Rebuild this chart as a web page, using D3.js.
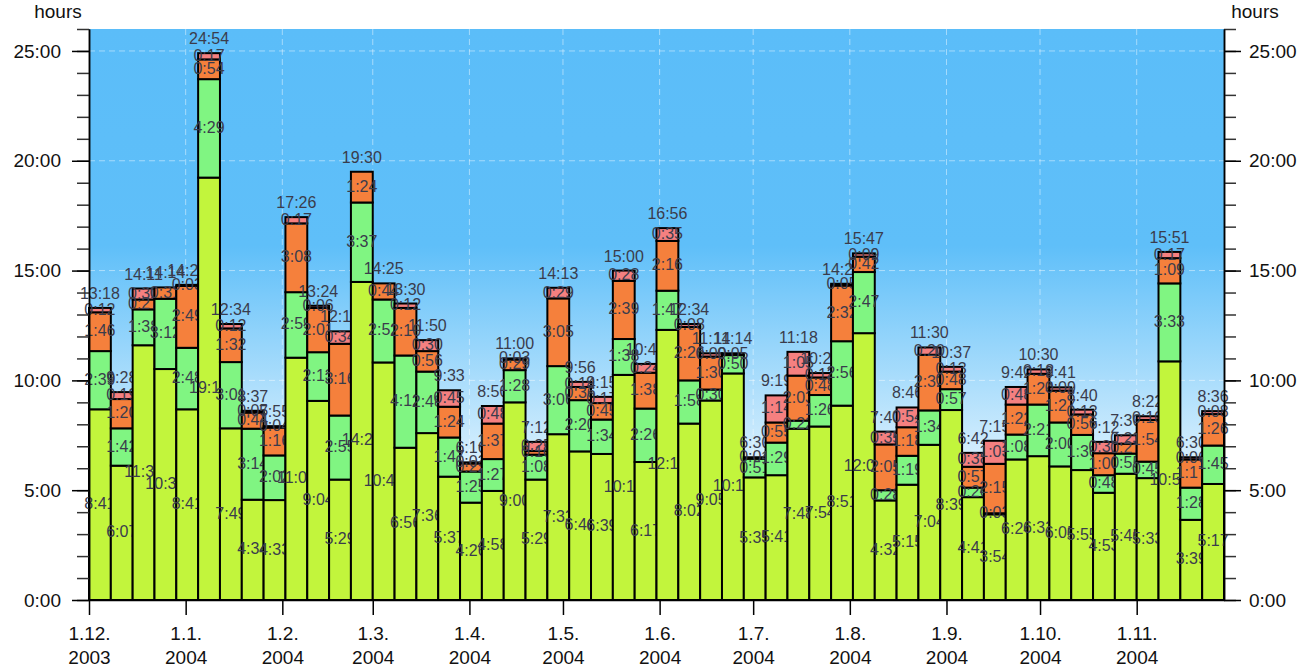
<!DOCTYPE html>
<html>
<head>
<meta charset="utf-8">
<script src="https://cdn.jsdelivr.net/npm/d3@7"></script>
<style>
  body { margin: 0; background: #fff; }
  svg text { font-family: "Liberation Sans", Arial, sans-serif; }
</style>
</head>
<body>
<svg width="1303" height="669"></svg>
<script>
// weekly stacked hours, Mondays 1.12.2003 .. 22.11.2004
const FIRST_WEEK = new Date(2003, 11, 1);
const END_DATE = new Date(2004, 10, 29);

// bottom segment (yellow-green)
const seriesA = ["8:41","6:07","11:36","10:31","8:41","19:14","7:49","4:34","4:33","11:02","9:04","5:29","14:29",
  "10:49","6:56","7:36","5:37","4:26","4:58","9:00","5:29","7:33","6:46","6:39","10:15","6:17","12:18",
  "8:02","9:05","10:19","5:35","5:41","7:48","7:54","8:51","12:09","4:32","5:15","7:04","8:39","4:41",
  "3:54","6:24","6:33","6:05","5:55","4:53","5:45","5:33","10:52","3:39","5:17"];
// second segment (light green)
const seriesB = ["2:39","1:42","1:38","3:12","2:48","4:29","3:01","3:14","2:02","2:59","2:13","2:55","3:37",
  "2:52","4:12","2:48","1:47","1:25","1:27","1:28","1:08","3:06","2:20","1:34","1:38","2:26","1:47",
  "1:58","0:30","0:50","0:51","1:29","0:22","1:26","2:56","2:47","0:28","1:19","1:34","0:57","0:26",
  "0:03","1:08","2:21","2:00","1:36","0:48","0:55","0:45","3:33","1:28","1:45"];
// third segment (orange)
const seriesC = ["1:46","1:20","0:27","0:31","2:49","0:54","1:32","0:44","1:16","3:08","2:01","3:16","1:24",
  "0:44","2:10","0:56","1:24","0:22","1:37","0:29","0:10","3:05","0:36","0:45","2:39","1:38","2:16",
  "2:26","1:30","0:00","0:04","0:55","2:03","0:48","2:32","0:42","2:05","1:18","2:32","0:48","0:57",
  "2:15","1:22","1:24","1:27","0:56","1:00","0:27","1:54","1:09","1:17","1:26"];
// top segment (pink)
const seriesD = ["0:12","0:19","0:30","0:00","0:03","0:17","0:12","0:05","0:04","0:17","0:06","0:34","0:00",
  "0:00","0:12","0:30","0:45","0:03","0:48","0:03","0:25","0:29","0:14","0:17","0:28","0:24","0:35",
  "0:08","0:09","0:05","0:00","1:14","1:05","0:12","0:05","0:09","0:35","0:54","0:20","0:13","0:38",
  "1:03","0:48","0:12","0:09","0:13","0:31","0:23","0:10","0:17","0:06","0:08"];

const KEYS = ["a", "b", "c", "d"];
const COLORS = { a: "#c2f53c", b: "#80f582", c: "#f5803c", d: "#f58080" };

(function () {
  const hm = s => { const [h, m] = s.split(":").map(Number); return h + m / 60; };
  const fmt = v => { const t = Math.round(v * 60); return Math.floor(t / 60) + ":" + String(t % 60).padStart(2, "0"); };

  const weeks = d3.timeMonday.range(FIRST_WEEK, END_DATE);
  const rows = weeks.map((w, i) => ({
    week: w, a: hm(seriesA[i]), b: hm(seriesB[i]), c: hm(seriesC[i]), d: hm(seriesD[i])
  }));
  const stacked = d3.stack().keys(KEYS)(rows);

  const plotL = 89, plotR = 1224, plotT = 29, plotB = 600;

  const x = d3.scaleTime().domain([FIRST_WEEK, END_DATE]).range([plotL, plotR]);
  const y = d3.scaleLinear().domain([0, 26]).range([plotB, plotT]);

  const svg = d3.select("svg");

  // background gradient
  const grad = svg.append("defs").append("linearGradient")
    .attr("id", "sky").attr("gradientUnits", "userSpaceOnUse")
    .attr("x1", 0).attr("x2", 0).attr("y1", plotT).attr("y2", plotB);
  grad.append("stop").attr("offset", 0).attr("stop-color", "#5bbdf9");
  grad.append("stop").attr("offset", 0.38).attr("stop-color", "#5fbff9");
  grad.append("stop").attr("offset", 0.88).attr("stop-color", "#ffffff");

  svg.append("rect")
    .attr("x", plotL).attr("y", plotT)
    .attr("width", plotR - plotL).attr("height", plotB - plotT)
    .attr("fill", "url(#sky)");

  // grid
  const months = d3.timeMonth.range(FIRST_WEEK, END_DATE);
  const grid = svg.append("g")
    .attr("stroke", "#ffffff").attr("stroke-opacity", 0.45)
    .attr("stroke-dasharray", "6,4").attr("stroke-width", 1);
  grid.selectAll("line.h").data(d3.range(5, 26, 5)).join("line")
    .attr("x1", plotL).attr("x2", plotR)
    .attr("y1", d => y(d)).attr("y2", d => y(d));
  grid.selectAll("line.v").data(months.slice(1)).join("line")
    .attr("y1", plotT).attr("y2", plotB)
    .attr("x1", d => x(d)).attr("x2", d => x(d));

  // bars, drawn one after the other so a later bar covers overflowing labels
  const bars = svg.append("g").selectAll("g.bar").data(rows).join("g").attr("class", "bar");

  bars.each(function (row, i) {
    const g = d3.select(this);
    const x0 = x(row.week);
    const x1 = x(d3.timeDay.offset(row.week, 7));
    const cx = (x0 + x1) / 2;
    const segs = stacked.map(layer => ({ key: layer.key, y0: layer[i][0], y1: layer[i][1] }))
      .filter(s => s.y1 - s.y0 > 0);

    g.selectAll("rect").data(segs).join("rect")
      .attr("x", x0).attr("width", x1 - x0)
      .attr("y", s => y(s.y1)).attr("height", s => y(s.y0) - y(s.y1))
      .attr("fill", s => COLORS[s.key])
      .attr("stroke", "#000").attr("stroke-width", 2);

    g.selectAll("text.seg").data(segs).join("text")
      .attr("class", "seg")
      .attr("x", cx).attr("y", s => (y(s.y0) + y(s.y1)) / 2 - 1)
      .attr("text-anchor", "middle").attr("dominant-baseline", "central")
      .attr("font-size", 16).attr("fill", "#3a3c4c")
      .text(s => fmt(s.y1 - s.y0));

    const total = KEYS.reduce((t, k) => t + row[k], 0);
    g.append("text")
      .attr("x", cx).attr("y", y(total) - 9)
      .attr("text-anchor", "middle")
      .attr("font-size", 16).attr("fill", "#3a3c4c")
      .text(fmt(total));
  });

  // axes
  const hourFmt = d => d + ":00";
  const styleAxis = (sel, tickColor) => {
    sel.select(".domain").attr("stroke", "#000").attr("stroke-width", 1.5);
    sel.selectAll(".tick line").attr("stroke", tickColor || "#000").attr("stroke-width", 1.5);
    sel.selectAll(".tick text").attr("font-size", 19).attr("fill", "#111")
      .style("font-family", '"Liberation Sans", Arial, sans-serif');
  };

  svg.append("g").attr("transform", `translate(${plotL},0)`)
    .call(d3.axisLeft(y).tickValues(d3.range(0, 27)).tickSize(12).tickFormat("").tickSizeOuter(0))
    .call(styleAxis, "#333");
  svg.append("g").attr("transform", `translate(${plotL},0)`)
    .call(d3.axisLeft(y).tickValues(d3.range(0, 26, 5)).tickSize(17).tickPadding(11).tickFormat(hourFmt).tickSizeOuter(0))
    .call(styleAxis);

  svg.append("g").attr("transform", `translate(${plotR},0)`)
    .call(d3.axisRight(y).tickValues(d3.range(0, 27)).tickSize(12).tickFormat("").tickSizeOuter(0))
    .call(styleAxis, "#333");
  svg.append("g").attr("transform", `translate(${plotR},0)`)
    .call(d3.axisRight(y).tickValues(d3.range(0, 26, 5)).tickSize(17).tickPadding(8).tickFormat(hourFmt).tickSizeOuter(0))
    .call(styleAxis);

  const xAxis = svg.append("g").attr("transform", `translate(0,${plotB})`)
    .call(d3.axisBottom(x).tickValues(months).tickSize(15).tickFormat("").tickSizeOuter(0))
    .call(styleAxis);
  xAxis.selectAll(".tick").each(function (d) {
    const t = d3.select(this).append("text")
      .attr("text-anchor", "middle").attr("font-size", 19).attr("fill", "#111");
    t.append("tspan").attr("x", 0).attr("y", 40).text(`${d.getDate()}.${d.getMonth() + 1}.`);
    t.append("tspan").attr("x", 0).attr("y", 64).text(d.getFullYear());
  });

  svg.append("text").attr("x", 58).attr("y", 18).attr("text-anchor", "middle")
    .attr("font-size", 19).attr("fill", "#111").text("hours");
  svg.append("text").attr("x", 1255).attr("y", 18).attr("text-anchor", "middle")
    .attr("font-size", 19).attr("fill", "#111").text("hours");
})();
</script>
</body>
</html>
